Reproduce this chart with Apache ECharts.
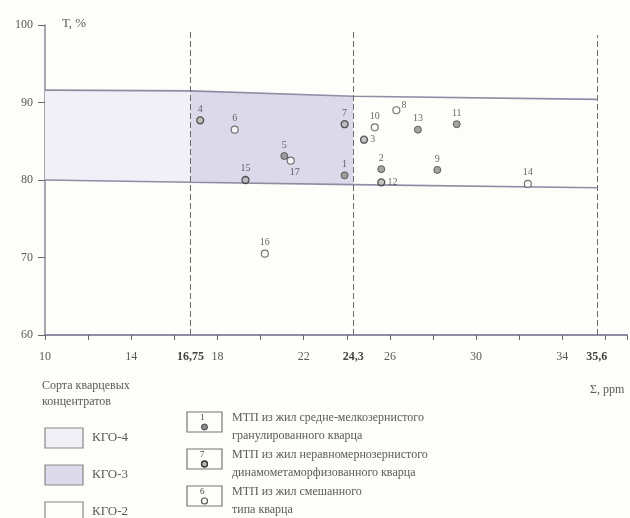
<!DOCTYPE html>
<html><head><meta charset="utf-8">
<script src="https://cdn.jsdelivr.net/npm/echarts@6/dist/echarts.min.js"></script>
<style>html,body{margin:0;padding:0;background:#fdfdf9}#c{width:630px;height:518px}</style>
</head><body><div id="c"></div>
<script>
// ---- data ----
const pointNo = ['1','2','3','4','5','6','7','8','9','10','11','12','13','14','15','16','17'];
const sigmaPpm = [23.9,25.6,24.8,17.2,21.1,18.8,23.9,26.3,28.2,25.3,29.1,25.6,27.3,32.4,19.3,20.2,21.4];
const transT   = [80.6,81.4,85.2,87.7,83.1,86.5,87.2,89.0,81.3,86.8,87.2,79.7,86.5,79.5,80.0,70.5,82.5];
const veinType = [1,1,2,2,1,3,2,3,1,3,1,2,1,3,2,3,3];
const bandX      = [10, 16.75, 24.3, 35.6];
const bandTop    = [91.6, 91.5, 90.8, 90.4];
const bandBottom = [80.0, 79.7, 79.4, 79.0];
const limitX   = [16.75, 24.3, 35.6];
const limitTop = [99.4, 99.1, 98.7];
const limitLabels = ['16,75', '24,3', '35,6'];
const xTickLabels = [10, 14, 18, 22, 26, 30, 34];
const yTicks = [60, 70, 80, 90, 100];
const gradeNames = ['КГО-4', 'КГО-3', 'КГО-2'];
const typeNames = [
  ['МТП из жил средне-мелкозернистого', 'гранулированного кварца'],
  ['МТП из жил неравномернозернистого', 'динамометаморфизованного кварца'],
  ['МТП из жил смешанного', 'типа кварца']
];
const typeSample = ['1', '7', '6'];

// ---- styles ----
const FONT = 'Liberation Serif';
const TXT = '#5a5a5a';
const bandFill = ['#f1f0f7', '#dcdaea', 'rgba(0,0,0,0)'];
const gradeFill = ['#f1f0f7', '#dcdaea', '#fdfdf9'];
const symStyle = {
  1: {color: '#8c8c8c', borderColor: '#444', borderWidth: 1},
  2: {color: '#b5b5b5', borderColor: '#333', borderWidth: 1.3},
  3: {color: '#fdfdf9', borderColor: '#555', borderWidth: 1.2}
};
const labelPlace = {
  '3': {position: 'right', distance: 2},
  '8': {position: 'right', distance: 1, offset: [0, -5]},
  '12': {position: 'right', distance: 2},
  '17': {position: 'bottom', distance: 3, offset: [4, 0]}
};

const chart = echarts.init(document.getElementById('c'));

const bandData = bandX.slice(0, -1).map((x, i) => [i]);
const bandSeries = {
  type: 'custom', silent: true, z: 1,
  data: bandData,
  renderItem: function (params, api) {
    const i = api.value(0);
    const pts = [
      api.coord([bandX[i], bandBottom[i]]),
      api.coord([bandX[i + 1], bandBottom[i + 1]]),
      api.coord([bandX[i + 1], bandTop[i + 1]]),
      api.coord([bandX[i], bandTop[i]])
    ];
    return {type: 'polygon', shape: {points: pts}, style: {fill: bandFill[i], stroke: null}};
  }
};

function edgeSeries(ys, withMarks) {
  const s = {
    type: 'line', silent: true, symbol: 'none', z: 3,
    data: bandX.map((x, i) => [x, ys[i]]),
    lineStyle: {color: '#8f8da6', width: 1.6}
  };
  if (withMarks) {
    s.markLine = {
      silent: true, symbol: 'none', animation: false,
      lineStyle: {type: [6, 3], color: '#6a6a6a', width: 1},
      label: {show: true, position: 'start', distance: 16, fontFamily: FONT, fontSize: 12,
              fontWeight: 'bold', color: '#444',
              formatter: p => p.data && p.data.name ? p.data.name : ''},
      data: limitX.map((x, i) => [{coord: [x, 60], name: limitLabels[i]}, {coord: [x, limitTop[i]]}])
        .concat(limitX.map(x => [{coord: [x, 59.2], name: '', lineStyle: {type: 'solid', width: 2.5, color: '#444'}}, {coord: [x, 60.8]}]))
    };
  }
  return s;
}

const scatterSeries = [1, 2, 3].map(t => {
  const data = [];
  pointNo.forEach((n, i) => {
    if (veinType[i] !== t) return;
    const lp = labelPlace[n] || {position: 'top', distance: 2};
    data.push({value: [sigmaPpm[i], transT[i]], name: n, label: lp});
  });
  return {
    type: 'scatter', z: 5, symbol: 'circle', symbolSize: 7,
    itemStyle: symStyle[t],
    label: {show: true, formatter: '{b}', fontFamily: FONT, fontSize: 10, color: '#444'},
    data
  };
});

const graphics = [];
graphics.push({type: 'text', left: 62, top: 17, style: {text: 'Т, %', font: '13px ' + FONT, fill: TXT}});
graphics.push({type: 'text', left: 590, top: 384, style: {text: 'Σ, ppm', font: '12px ' + FONT, fill: TXT}});
graphics.push({type: 'text', left: 42, top: 378, style: {text: 'Сорта кварцевых\nконцентратов', font: '12px ' + FONT, fill: TXT, lineHeight: 16}});
gradeNames.forEach((g, i) => {
  const y = 428 + i * 37;
  graphics.push({type: 'rect', shape: {x: 45, y: y, width: 38, height: 20}, style: {fill: gradeFill[i], stroke: '#888', lineWidth: 1.2}});
  graphics.push({type: 'text', left: 92, top: y + 3, style: {text: g, font: '13px ' + FONT, fill: TXT}});
});
typeNames.forEach((lines, i) => {
  const y = 412 + i * 37;
  graphics.push({type: 'rect', shape: {x: 187, y: y, width: 35, height: 20}, style: {fill: '#fdfdf9', stroke: '#777', lineWidth: 1.2}});
  graphics.push({type: 'text', left: 200, top: y + 1, style: {text: typeSample[i], font: '9px ' + FONT, fill: '#444'}});
  const st = symStyle[i + 1];
  graphics.push({type: 'circle', shape: {cx: 204.5, cy: y + 15, r: 3}, style: {fill: st.color, stroke: st.borderColor, lineWidth: st.borderWidth}});
  graphics.push({type: 'text', left: 232, top: y - 3, style: {text: lines.join('\n'), font: '12px ' + FONT, fill: TXT, lineHeight: 18}});
});

chart.setOption({
  backgroundColor: '#fdfdf9',
  animation: false,
  grid: {left: 45, right: 2, top: 25, bottom: 183, containLabel: false},
  xAxis: {
    type: 'value', min: 10, max: 37, interval: 2,
    axisLine: {lineStyle: {color: '#8f8da6', width: 1.8}},
    axisTick: {show: true, length: 5, lineStyle: {color: '#666'}},
    splitLine: {show: false},
    axisLabel: {fontFamily: FONT, fontSize: 12, color: TXT, margin: 16,
      formatter: v => xTickLabels.indexOf(v) >= 0 ? String(v) : ''}
  },
  yAxis: {
    type: 'value', min: 60, max: 100, interval: 10,
    axisLine: {show: true, lineStyle: {color: '#8a8a9a', width: 1.5}},
    axisTick: {show: true, length: 7, lineStyle: {color: '#666'}},
    splitLine: {show: false},
    axisLabel: {fontFamily: FONT, fontSize: 12, color: TXT, margin: 12,
      formatter: v => yTicks.indexOf(v) >= 0 ? String(v) : ''}
  },
  series: [bandSeries, edgeSeries(bandTop, true), edgeSeries(bandBottom, false)].concat(scatterSeries),
  graphic: graphics
});
</script></body></html>
